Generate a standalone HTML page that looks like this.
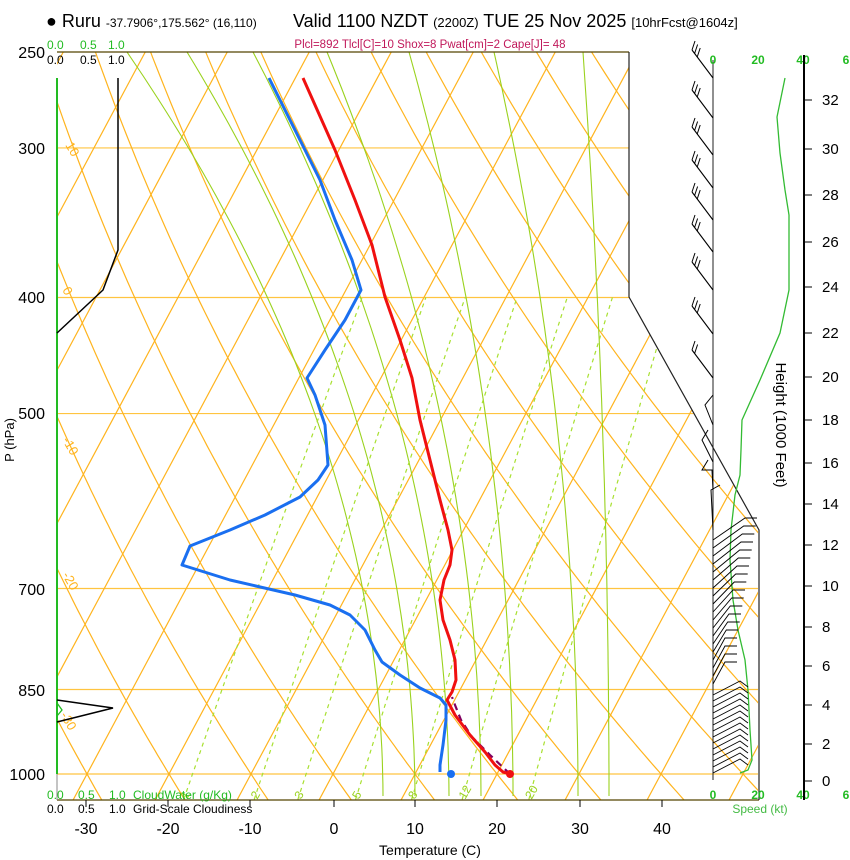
<!DOCTYPE html>
<html><head><meta charset="utf-8">
<style>
body{margin:0;background:#fff;}
svg{display:block;font-family:"Liberation Sans",sans-serif;}
</style></head>
<body>
<svg id="s" width="850" height="860" viewBox="0 0 850 860" xmlns="http://www.w3.org/2000/svg">
<defs>
<clipPath id="c"><polygon points="57,52 629,52 629,297 758,530 758,800 57,800"/></clipPath>
</defs>
<rect width="850" height="860" fill="#fff"/>
<g id="grid" clip-path="url(#c)"></g>
<g id="prof"></g>
<text x="46" y="27" font-size="18">● Ruru <tspan font-size="12">-37.7906°,175.562° (16,110)</tspan></text>
<text x="293" y="27" font-size="18">Valid 1100 NZDT <tspan font-size="13">(2200Z)</tspan> TUE 25 Nov 2025 <tspan font-size="13">[10hrFcst@1604z]</tspan></text>
<text x="430" y="48" font-size="11.5" fill="#c0185a" text-anchor="middle">Plcl=892 Tlcl[C]=10 Shox=8 Pwat[cm]=2 Cape[J]= 48</text>
<g font-size="12" fill="#22bb22"><text x="47" y="49">0.0</text><text x="80" y="49">0.5</text><text x="108" y="49">1.0</text></g>
<g font-size="12"><text x="47" y="64">0.0</text><text x="80" y="64">0.5</text><text x="108" y="64">1.0</text></g>
<g font-size="12" fill="#22bb22"><text x="47" y="799">0.0</text><text x="78" y="799">0.5</text><text x="109" y="799">1.0</text><text x="133" y="799">CloudWater (g/Kg)</text></g>
<g font-size="12"><text x="47" y="813">0.0</text><text x="78" y="813">0.5</text><text x="109" y="813">1.0</text><text x="133" y="813">Grid-Scale Cloudiness</text></g>
<g font-size="16" text-anchor="end"><text x="45" y="58">250</text><text x="45" y="154">300</text><text x="45" y="303">400</text><text x="45" y="419">500</text><text x="45" y="595">700</text><text x="45" y="696">850</text><text x="45" y="780">1000</text></g>
<text transform="translate(14,440) rotate(-90)" font-size="13" text-anchor="middle">P (hPa)</text>
<g font-size="16" text-anchor="middle"><text x="86" y="834">-30</text><text x="168" y="834">-20</text><text x="250" y="834">-10</text><text x="334" y="834">0</text><text x="415" y="834">10</text><text x="497" y="834">20</text><text x="580" y="834">30</text><text x="662" y="834">40</text></g>
<text x="430" y="855" font-size="14" text-anchor="middle">Temperature (C)</text>
<g font-size="12" fill="#22bb22" font-weight="bold" text-anchor="middle"><text x="713" y="64">0</text><text x="758" y="64">20</text><text x="803" y="64">40</text><text x="846" y="64">6</text>
<text x="713" y="799">0</text><text x="758" y="799">20</text><text x="803" y="799">40</text><text x="846" y="799">6</text></g>
<text x="760" y="813" font-size="12" fill="#44bb44" text-anchor="middle">Speed (kt)</text>
<line x1="804" y1="55" x2="804" y2="800" stroke="#000" stroke-width="2"/>
<g id="hax" font-size="15"></g>
<text transform="translate(776,425) rotate(90)" font-size="15" text-anchor="middle">Height (1000 Feet)</text>
</svg>
<script>
const NS="http://www.w3.org/2000/svg";
function Y(p){return 774-520*Math.log(1000/p);}
function X(T,p){return 333+8.2*T+0.535*(774-Y(p));}
function add(par,tag,at,txt){const e=document.createElementNS(NS,tag);for(const k in at)e.setAttribute(k,at[k]);if(txt!==undefined)e.textContent=txt;document.getElementById(par).appendChild(e);return e;}
function pl(par,pts,st){return add(par,'polyline',Object.assign({points:pts.map(p=>p[0].toFixed(1)+','+p[1].toFixed(1)).join(' '),fill:'none'},st));}
const OR='#ffb41e',GR='#9ad21e';
[1000,850,700,500,400,300].forEach(p=>add('grid','line',{x1:57,x2:760,y1:Y(p),y2:Y(p),stroke:'#ffc440','stroke-width':1.2}));
for(let T=-130;T<=50;T+=10){add('grid','line',{x1:X(T,1052),y1:Y(1052),x2:X(T,240),y2:Y(240),stroke:OR,'stroke-width':1.2});}
for(let th=-60;th<=200;th+=10){const pts=[];for(let p=1052;p>=240;p-=8){const T=(th+273.15)*Math.pow(p/1000,0.286)-273.15;pts.push([X(T,p),Y(p)]);}pl('grid',pts,{stroke:OR,'stroke-width':1.2});}
// moist adiabats (approximated from reference)
[[127,383],[187,415],[253,449],[327,481],[409,513],[494,578],[583,609]].forEach(a=>{const pts=[];for(let y=52;y<=800;y+=12){const t=(y-52)/748;const f=1-(1-t)*(1-t);pts.push([a[0]+(a[1]-a[0])*f,y]);}pl('grid',pts,{stroke:GR,'stroke-width':1.1});});
const mr=[1,2,3,5,8,12,20];
mr.forEach(w=>{const pts=[];for(let p=1050;p>=400;p-=10){const e=(w/1000)*p/(0.622+w/1000);const l=Math.log(e/6.112);const T=243.5*l/(17.67-l);pts.push([X(T,p),Y(p)]);}
 pl('grid',pts,{stroke:'#a8e030','stroke-width':1.2,'stroke-dasharray':'4,4'});
 const e=(w/1000)*1040/(0.622+w/1000);const l=Math.log(e/6.112);const T=243.5*l/(17.67-l);
 add('grid','text',{x:X(T,1040)-4,y:Y(1040)+4,'font-size':12,fill:'#9ad21e',transform:`rotate(-60 ${X(T,1040)} ${Y(1040)})`},String(w));});
[[65,145,'10'],[62,290,'0'],[62,440,'-10'],[62,575,'-20'],[60,715,'-30']].forEach(a=>add('grid','text',{x:a[0],y:a[1],'font-size':13,fill:OR,transform:`rotate(60 ${a[0]} ${a[1]})`},a[2]));
[[640,205,'0'],[655,325,'10'],[700,405,'20'],[740,482,'30']].forEach(a=>add('grid','text',{x:a[0],y:a[1],'font-size':18,fill:OR,transform:`rotate(-35 ${a[0]} ${a[1]})`},a[2]));
const P='prof';
add(P,'line',{x1:57,y1:52,x2:629,y2:52,stroke:'#554400','stroke-width':1.3});
add(P,'line',{x1:57,y1:800,x2:759,y2:800,stroke:'#554400','stroke-width':1.3});
add(P,'line',{x1:57,y1:774,x2:57,y2:800,stroke:'#888','stroke-width':1});
add(P,'line',{x1:57,y1:78,x2:57,y2:774,stroke:'#22bb22','stroke-width':2});
[86,168,250,334,415,497,580,662].forEach(x=>add(P,'line',{x1:x,y1:800,x2:x,y2:807,stroke:'#000'}));
pl(P,[[629,52],[629,297],[759,530],[759,800]],{stroke:'#222','stroke-width':1.2});
pl(P,[[118,78],[118,250],[103,290],[57,333]],{stroke:'#000','stroke-width':1.5});
pl(P,[[57,700],[113,708],[57,722]],{stroke:'#000','stroke-width':1.5});
pl(P,[[57,703],[62,710],[57,716]],{stroke:'#22bb22','stroke-width':1.3});
add(P,'line',{x1:713,y1:60,x2:713,y2:780,stroke:'#222','stroke-width':1});
pl(P,[[785,78],[777,117],[780,153],[785,190],[789,215],[789,290],[780,333],[760,380],[742,420],[741,450],[740,475],[735,495],[731,530],[730,560],[733,600],[738,630],[745,660],[748,690],[750,730],[752,760],[748,770],[740,773]],{stroke:'#33bb33','stroke-width':1.3});
[78,118,155,188,220,252,290,334,378].forEach((y,i)=>{pl(P,[[713,y],[692,y-28]],{stroke:'#000','stroke-width':1.1});const n=i<8?3:2;for(let k=0;k<n;k++){const yy=y-28+k*3.5,xx=692+k*2.6;pl(P,[[xx,yy],[xx+3,yy-9]],{stroke:'#000','stroke-width':1});}});
pl(P,[[713,425],[705,405],[713,395]],{stroke:'#000'});
pl(P,[[713,462],[702,440],[708,430]],{stroke:'#000'});
pl(P,[[713,490],[712,470],[702,470],[708,460]],{stroke:'#000'});
pl(P,[[713,530],[711,490],[720,485]],{stroke:'#000'});
for(let y=540;y<=688;y+=8){const dx=Math.max(12,32-(y-540)/6);pl(P,[[713,y],[713+dx,y-22],[713+dx+12,y-22]],{stroke:'#000','stroke-width':0.9});}
for(let y=695;y<=773;y+=6){pl(P,[[713,y],[740,y-14],[748,y-8]],{stroke:'#000','stroke-width':0.9});}
[[0,781],[2,744],[4,705],[6,666],[8,627],[10,586],[12,545],[14,504],[16,463],[18,420],[20,377],[22,333],[24,287],[26,242],[28,195],[30,149],[32,100]].forEach(a=>{add('hax','line',{x1:804,x2:812,y1:a[1],y2:a[1],stroke:'#000'});add('hax','text',{x:822,y:a[1]+5},String(a[0]));});
pl(P,[[269,78],[300,140],[320,180],[335,220],[352,260],[361,290],[345,320],[325,350],[307,378],[315,395],[325,425],[328,465],[318,480],[300,497],[265,515],[230,530],[190,546],[182,565],[230,580],[295,595],[330,605],[350,615],[365,630],[375,650],[382,662],[400,675],[420,688],[440,698],[446,705],[446,720],[443,745],[440,765],[440,772]],{stroke:'#1a6ff0','stroke-width':3,'stroke-linejoin':'round'});
pl(P,[[510,774],[490,755],[472,737],[461,720],[455,705],[452,697]],{stroke:'#800060','stroke-width':2.2,'stroke-dasharray':'7,5'});
pl(P,[[303,78],[335,150],[355,200],[372,245],[385,297],[400,340],[412,378],[420,420],[430,460],[440,500],[448,530],[452,550],[450,565],[444,580],[440,600],[443,620],[450,640],[455,660],[456,680],[452,692],[447,700],[455,715],[470,735],[485,752],[495,765],[503,772],[510,774]],{stroke:'#f01010','stroke-width':3,'stroke-linejoin':'round'});
add(P,'circle',{cx:451,cy:774,r:4,fill:'#1a6ff0'});
add(P,'circle',{cx:510,cy:774,r:4,fill:'#f01010'});
</script>
</body></html>
